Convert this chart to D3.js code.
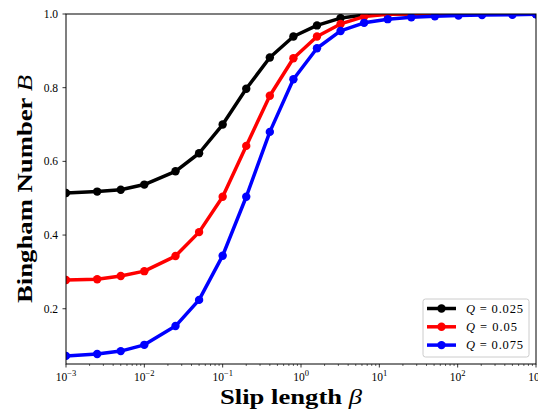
<!DOCTYPE html>
<html><head><meta charset="utf-8">
<script src="https://cdn.jsdelivr.net/npm/d3@7"></script>
<style>body{margin:0;background:#fff}svg{display:block}</style>
</head><body><svg id="c" width="538" height="410"></svg>
<script>
const beta = [0.001,0.0025,0.005,0.01,0.025,0.05,0.1,0.2,0.4,0.8,1.6,3.2,6.4,12.8,25.6,51.2,102.4,204.8,500,1000];
const seriesNames = ["0.025","0.05","0.075"];
const seriesColors = ["#000000","#ff0000","#0000ff"];
const bBlack = [0.514,0.518,0.523,0.537,0.573,0.622,0.700,0.797,0.882,0.939,0.969,0.989,0.997,1,1,1,1,1,1,1];
const bRed   = [0.278,0.280,0.289,0.302,0.343,0.408,0.504,0.642,0.778,0.880,0.939,0.973,0.993,0.999,1,1,1,1,1,1];
const bBlue  = [0.072,0.077,0.085,0.102,0.153,0.224,0.344,0.504,0.680,0.823,0.907,0.954,0.976,0.986,0.991,0.994,0.996,0.997,0.998,0.999];
const yTicks = [0.2,0.4,0.6,0.8,1.0];
const xTickExp = [-3,-2,-1,0,1,2,3];

const svg = d3.select("#c");
const m = {l:66, t:14, r:536, b:364};
const x = d3.scaleLog().domain([1e-3,1e3]).range([m.l,m.r]);
const y = d3.scaleLinear().domain([0.05,1.0]).range([m.b,m.t]);
const serif = "'Liberation Serif', 'DejaVu Serif', serif";

svg.append("defs").append("clipPath").attr("id","clip")
  .append("rect").attr("x",m.l).attr("y",m.t).attr("width",m.r-m.l).attr("height",m.b-m.t);

const g = svg.append("g").attr("clip-path","url(#clip)");
const data = [bBlack,bRed,bBlue];
const line = d3.line().x((d,i)=>x(beta[i])).y(d=>y(d));
data.forEach((s,k)=>{
  g.append("path").datum(s).attr("d",line).attr("fill","none")
   .attr("stroke",seriesColors[k]).attr("stroke-width",3.5).attr("stroke-linejoin","round");
  g.selectAll(null).data(s).enter().append("circle")
   .attr("cx",(d,i)=>x(beta[i])).attr("cy",d=>y(d)).attr("r",4.2).attr("fill",seriesColors[k]);
});

// frame
svg.append("rect").attr("x",m.l).attr("y",m.t).attr("width",m.r-m.l).attr("height",m.b-m.t)
  .attr("fill","none").attr("stroke","#000").attr("stroke-width",1);

// x ticks
const xa = svg.append("g");
const minor = [];
for(let e=-3;e<3;e++) for(let k=2;k<10;k++) minor.push(k*Math.pow(10,e));
xa.selectAll(null).data(minor).enter().append("line")
  .attr("x1",d=>x(d)).attr("x2",d=>x(d)).attr("y1",m.b).attr("y2",m.b+2).attr("stroke","#000").attr("stroke-width",0.6);
xa.selectAll(null).data(xTickExp).enter().append("line")
  .attr("x1",d=>x(Math.pow(10,d))).attr("x2",d=>x(Math.pow(10,d))).attr("y1",m.b).attr("y2",m.b+3.5).attr("stroke","#000").attr("stroke-width",0.8);
const xt = xa.selectAll(null).data(xTickExp).enter().append("text")
  .attr("x",d=>x(Math.pow(10,d))).attr("y",m.b+17).attr("text-anchor","middle")
  .attr("font-family",serif).attr("font-size",11.5).attr("fill","#000");
xt.append("tspan").text("10");
xt.append("tspan").attr("dy",-5).attr("font-size",8.5).text(d=>d<0?"\u2212"+(-d):String(d));

// y ticks
const ya = svg.append("g");
ya.selectAll(null).data(yTicks).enter().append("line")
  .attr("x1",m.l-3.5).attr("x2",m.l).attr("y1",d=>y(d)).attr("y2",d=>y(d)).attr("stroke","#000").attr("stroke-width",0.8);
ya.selectAll(null).data(yTicks).enter().append("text")
  .attr("x",m.l-8).attr("y",d=>y(d)+4).attr("text-anchor","end")
  .attr("font-family",serif).attr("font-size",11.5).attr("fill","#000").text(d=>d.toFixed(1));

// axis labels
const xl = svg.append("text").attr("x",291).attr("y",404).attr("text-anchor","middle")
  .attr("font-family",serif).attr("font-size",22).attr("font-weight","bold")
  .attr("textLength",142).attr("lengthAdjust","spacingAndGlyphs");
xl.append("tspan").text("Slip length ");
xl.append("tspan").attr("font-weight","normal").attr("font-style","italic").text("β");

const yl = svg.append("text").attr("transform",`translate(32,189) rotate(-90)`).attr("text-anchor","middle")
  .attr("font-family",serif).attr("font-size",22).attr("font-weight","bold")
  .attr("textLength",228).attr("lengthAdjust","spacingAndGlyphs");
yl.append("tspan").text("Bingham Number ");
yl.append("tspan").attr("font-weight","normal").attr("font-style","italic").text("B");

// legend
const lg = svg.append("g");
lg.append("rect").attr("x",423).attr("y",299).attr("width",106).attr("height",58).attr("rx",2.5)
  .attr("fill","#fff").attr("fill-opacity",0.8).attr("stroke","#cccccc").attr("stroke-width",1);
seriesNames.forEach((nm,k)=>{
  const yy = 308.5 + k*18.3;
  lg.append("line").attr("x1",427).attr("x2",456).attr("y1",yy).attr("y2",yy)
    .attr("stroke",seriesColors[k]).attr("stroke-width",3.5);
  lg.append("circle").attr("cx",441.5).attr("cy",yy).attr("r",4.2).attr("fill",seriesColors[k]);
  const t = lg.append("text").attr("x",466).attr("y",yy+4).attr("font-family",serif).attr("font-size",12.5)
    .attr("textLength", nm.length===5 ? 57 : 51).attr("lengthAdjust","spacing");
  t.append("tspan").attr("font-style","italic").text("Q");
  t.append("tspan").text(" = " + nm);
});
</script></body></html>
